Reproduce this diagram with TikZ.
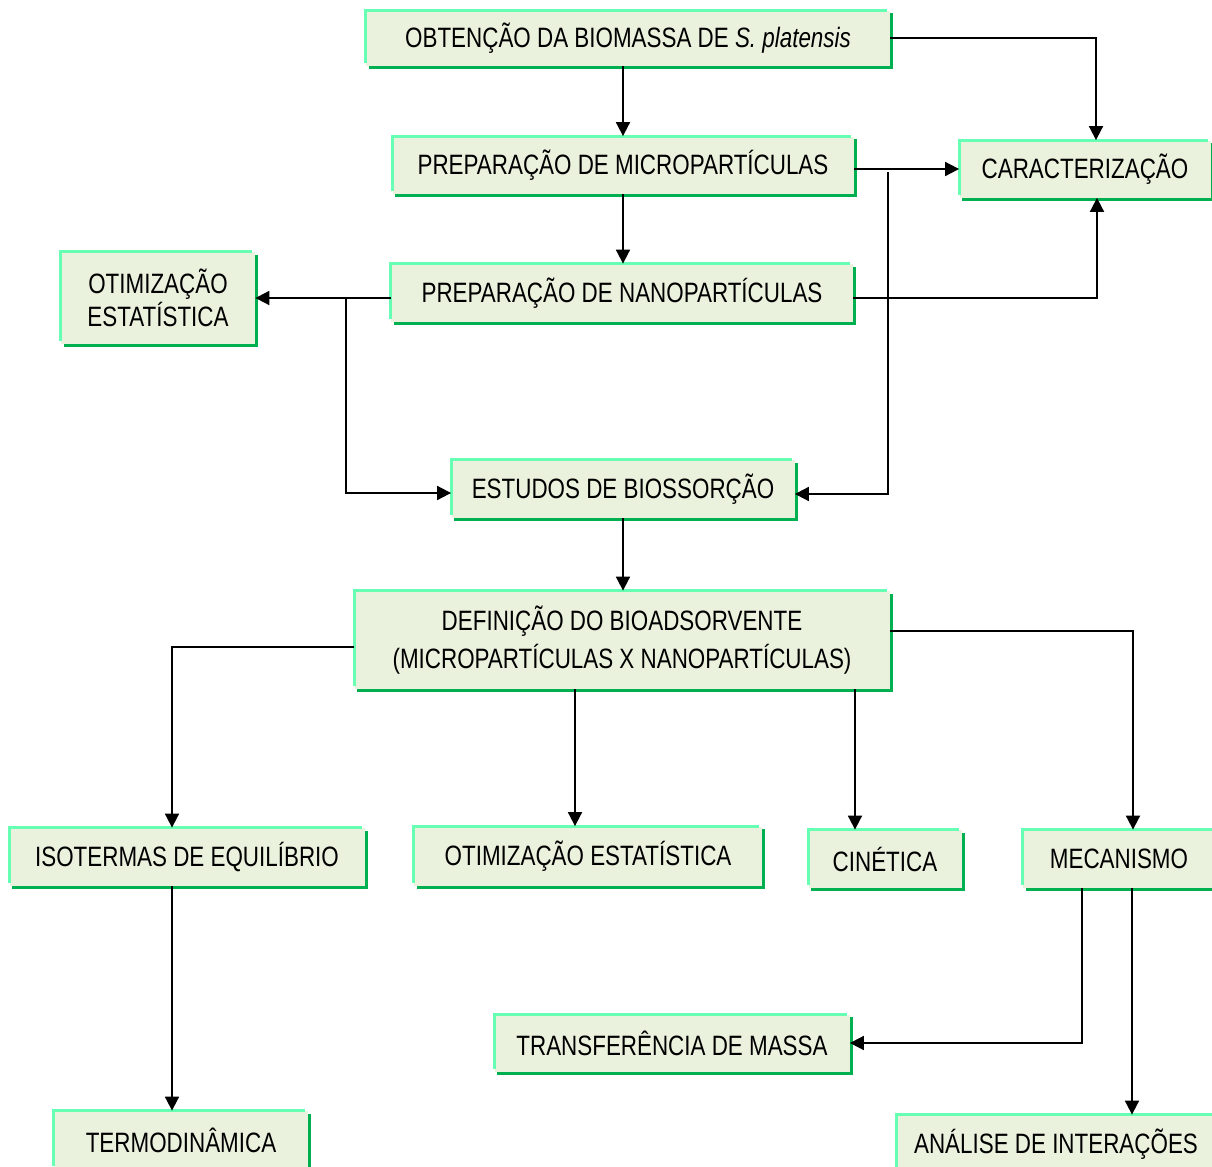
\documentclass[tikz,border=0pt]{standalone}
\usepackage{fontspec}
\setmainfont{Liberation Sans}[FakeStretch=0.80]
\usetikzlibrary{arrows.meta}
\definecolor{boxfill}{HTML}{EAF1DD}
\definecolor{boxlite}{HTML}{66FFB3}
\definecolor{boxdark}{HTML}{00B050}
\tikzset{
  box/.style={fill=boxfill, inner sep=0pt, align=center, font=\fontsize{14}{16.5}\selectfont},
  arr/.style={line width=0.9pt, -{Triangle[length=7pt,width=7pt]}},
  lite/.style={boxlite, line width=1.5pt},
  dark/.style={boxdark, line width=1.5pt}
}
\begin{document}
\begin{tikzpicture}[x=0.5pt,y=-0.5pt]
\useasboundingbox (0,0) rectangle (1212,1167);
\clip (0,0) rectangle (1212,1167);

\node[box, minimum width=262pt, minimum height=27.5pt] (obt) at (628,38) {OBTENÇÃO DA BIOMASSA DE \textit{S. platensis}};
\node[box, minimum width=230.5pt, minimum height=28.5pt] (micro) at (623,165) {PREPARAÇÃO DE MICROPARTÍCULAS};
\node[box, minimum width=125.5pt, minimum height=28.5pt] (carac) at (1085,169) {CARACTERIZAÇÃO};
\node[box, minimum width=97pt, minimum height=46pt] (otim) at (158,298) {OTIMIZAÇÃO\\ESTATÍSTICA};
\node[box, minimum width=231pt, minimum height=29pt] (nano) at (622,293) {PREPARAÇÃO DE NANOPARTÍCULAS};
\node[box, minimum width=171.5pt, minimum height=29pt] (estudos) at (623,489) {ESTUDOS DE BIOSSORÇÃO};
\node[box, minimum width=267.5pt, minimum height=49pt] (def) at (622,640) {DEFINIÇÃO DO BIOADSORVENTE\\[2.5pt](MICROPARTÍCULAS X NANOPARTÍCULAS)};

\node[box, minimum width=177.5pt, minimum height=29pt] (iso) at (187,857) {ISOTERMAS DE EQUILÍBRIO};
\node[box, minimum width=174pt, minimum height=29.5pt] (otim2) at (588,856) {OTIMIZAÇÃO ESTATÍSTICA};
\node[box, minimum width=76.5pt, minimum height=29pt] (cin) at (885,859) {CINÉTICA};
\node[box, minimum width=96pt, minimum height=29pt] (mec) at (1119,859) {MECANISMO};
\node[box, minimum width=177.5pt, minimum height=28.5pt] (transf) at (672,1043) {TRANSFERÊNCIA DE MASSA};
\node[box, minimum width=127pt, minimum height=29pt] (termo) at (181,1140) {TERMODINÂMICA};
\node[box, minimum width=159pt, minimum height=29pt] (ana) at (1056,1144) {ANÁLISE DE INTERAÇÕES};

\foreach \n in {obt,micro,carac,otim,nano,estudos,def,iso,otim2,cin,mec,transf,termo,ana}{
  \draw[lite] ([yshift=1.5pt]\n.south west) |- ([xshift=-1.5pt]\n.north east);
  \draw[dark] ([xshift=1.5pt,yshift=-0.75pt]\n.south west) -| ([xshift=0.75pt,yshift=-1.5pt]\n.north east);
}

\coordinate (br1) at (888,172);
\coordinate (br2) at (346,298);

\draw[arr] (obt.south -| micro.north) -- (micro.north);
\draw[arr] (obt.east) -| ([xshift=5.5pt]carac.north);
\draw[arr] (carac.west -| micro.east) -- (carac.west);
\draw[arr] (br1) |- ([yshift=-2.5pt]estudos.east);
\draw[arr] (micro.south) -- (micro.south |- nano.north);
\draw[arr] (otim.east -| nano.west) -- (otim.east);
\draw[arr] (br2) |- ([yshift=-2pt]estudos.west);
\draw[arr] ([yshift=-2.5pt]nano.east) -| ([xshift=6pt]carac.south);
\draw[arr] (estudos.south) -- (estudos.south |- def.north);

\draw[arr] ([yshift=-3.5pt]def.west) -| ([xshift=-7.5pt]iso.north);
\draw[arr] ([xshift=-6.5pt]otim2.north |- def.south) -- ([xshift=-6.5pt]otim2.north);
\draw[arr] ([xshift=-15pt]cin.north |- def.south) -- ([xshift=-15pt]cin.north);
\draw[arr] ([yshift=4.5pt]def.east) -| ([xshift=7pt]mec.north);
\draw[arr] ([xshift=-7.5pt]iso.south) -- ([xshift=-7.5pt]iso.south |- termo.north);
\draw[arr] ([xshift=-18.5pt]mec.south) |- (transf.east);
\draw[arr] ([xshift=6.5pt]mec.south) -- ([xshift=6.5pt]mec.south |- ana.north);
\end{tikzpicture}
\end{document}
